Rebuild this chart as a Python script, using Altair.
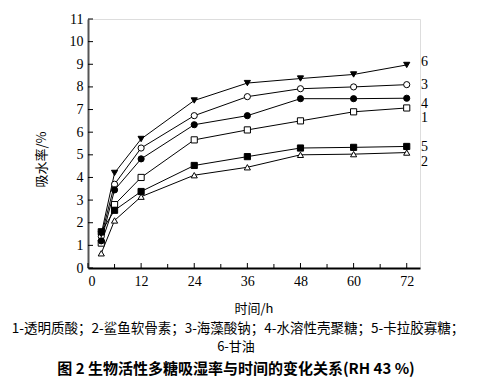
import altair as alt
import pandas as pd

hours = [3, 6, 12, 24, 36, 48, 60, 72]
s1 = [1.1, 2.8, 4.0, 5.66, 6.1, 6.5, 6.9, 7.07]
s2 = [0.65, 2.1, 3.15, 4.1, 4.45, 5.0, 5.03, 5.1]
s3 = [1.4, 3.7, 5.3, 6.73, 7.57, 7.92, 8.0, 8.1]
s4 = [1.2, 3.45, 4.82, 6.33, 6.73, 7.48, 7.48, 7.5]
s5 = [1.6, 2.55, 3.38, 4.53, 4.92, 5.3, 5.33, 5.37]
s6 = [1.5, 4.2, 5.7, 7.4, 8.17, 8.37, 8.55, 8.97]
series_names = ["1", "2", "3", "4", "5", "6"]
series_vals = [s1, s2, s3, s4, s5, s6]
shapes = ["square", "triangle-up", "circle", "circle", "square", "triangle-down"]
fills = ["white", "white", "white", "black", "black", "black"]
label_y = [6.64, 4.69, 8.1, 7.26, 5.35, 9.1]
label_x = 76

y_ticks = list(range(0, 12))
x_major = [0, 12, 24, 36, 48, 60, 72]
x_minor = [6, 18, 30, 42, 54, 66]

x_title = "时间/h"
y_title = "吸水率/%"
legend_line1 = "1-透明质酸；2-鲨鱼软骨素；3-海藻酸钠；4-水溶性壳聚糖；5-卡拉胶寡糖；"
legend_line2 = "6-甘油"
fig_title = "图 2  生物活性多糖吸湿率与时间的变化关系(RH 43  %)"

rows = []
for name, vals in zip(series_names, series_vals):
    for h, v in zip(hours, vals):
        rows.append({"series": name, "h": h, "v": v})
df = pd.DataFrame(rows)
lab = pd.DataFrame({"series": series_names, "v": label_y, "h": [label_x] * 6})

W, H = 332, 249
serif = "Liberation Serif"
cjk = "Noto Sans CJK SC"

xs = alt.Scale(domain=[0, 75], nice=False, zero=True)
ys = alt.Scale(domain=[0, 11], nice=False)
ax_x = alt.Axis(values=x_major, ticks=False, grid=False, title=None,
                domainColor="black", domainWidth=2, labelFont=serif,
                labelFontSize=14, labelColor="black", labelPadding=6, labelOverlap=False)
ax_y = alt.Axis(values=y_ticks, ticks=False, grid=False, title=y_title,
                titleFont=cjk, titleFontSize=13, titleFontWeight="normal",
                titleColor="black", titleX=-40, titleY=140,
                domainColor="#555555", domainWidth=2, labelFont=serif,
                labelFontSize=14, labelColor="black", labelPadding=5, labelOverlap=False)
X = alt.X("h:Q", scale=xs, axis=ax_x)
Y = alt.Y("v:Q", scale=ys, axis=ax_y)

base = alt.Chart(df)
lines = base.mark_line(color="black", strokeWidth=1).encode(x=X, y=Y, detail="series:N")
points = base.mark_point(filled=False, size=38, strokeWidth=1, stroke="black", opacity=1).encode(
    x=X, y=Y,
    shape=alt.Shape("series:N", scale=alt.Scale(domain=series_names, range=shapes), legend=None),
    fill=alt.Fill("series:N", scale=alt.Scale(domain=series_names, range=fills), legend=None),
)
labels = alt.Chart(lab).mark_text(font=serif, fontSize=14, color="black", align="center", baseline="middle").encode(
    x=X, y=Y, text="series:N")

yt = alt.Chart(pd.DataFrame({"v": y_ticks})).mark_rule(color="black", strokeWidth=1).encode(
    y=Y, x=alt.value(0), x2=alt.value(5))
xt = alt.Chart(pd.DataFrame({"h": x_major})).mark_rule(color="black", strokeWidth=1).encode(
    x=X, y=alt.value(H - 5), y2=alt.value(H))
xm = alt.Chart(pd.DataFrame({"h": x_minor})).mark_rule(color="black", strokeWidth=1).encode(
    x=X, y=alt.value(H - 4), y2=alt.value(H))

def txt(s, x, y, size, weight="normal", font=cjk):
    return alt.Chart(pd.DataFrame({"a": [0]})).mark_text(
        text=s, font=font, fontSize=size, fontWeight=weight, color="black",
        align="center", baseline="middle").encode(x=alt.value(x), y=alt.value(y))

t1 = txt(x_title, 166, 290, 13)
t2 = txt(legend_line1, 150, 310, 13.5)
t3 = txt(legend_line2, 148, 328, 13)
t4 = txt(fig_title, 148, 350, 15, "bold")

chart = alt.layer(lines, yt, xt, xm, points, labels, t1, t2, t3, t4).properties(
    width=W, height=H,
    autosize=alt.AutoSizeParams(type="none"),
    padding={"left": 80, "top": 11, "right": 49, "bottom": 111},
).configure_view(stroke=None).configure(background="white")

chart.save("out.html", embed_options={"renderer": "svg", "actions": False})
